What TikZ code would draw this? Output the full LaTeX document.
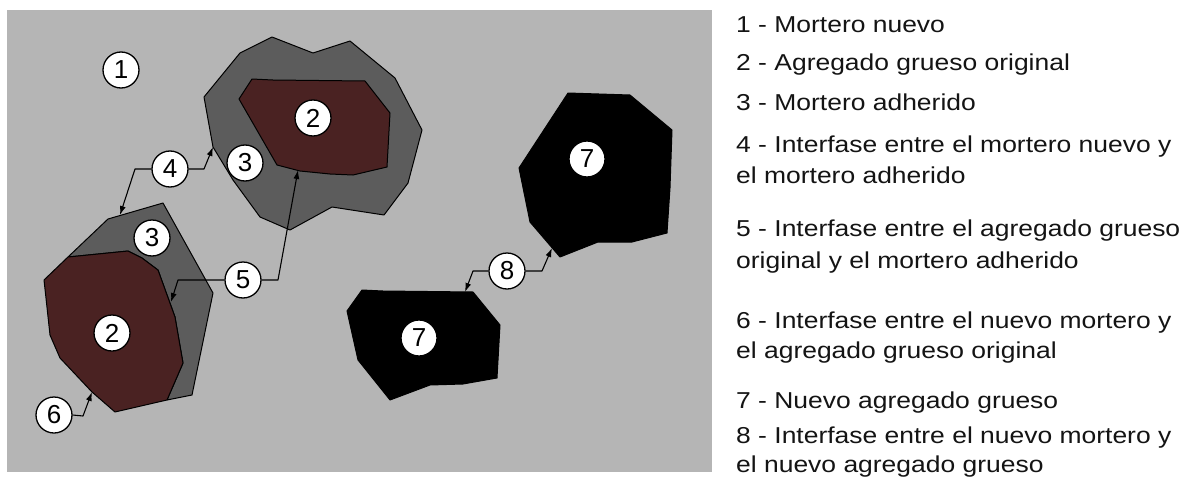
\documentclass[tikz,border=0pt]{standalone}
\usepackage{fontspec}
\setmainfont{Liberation Sans}
\newfontfamily\legendfont[FakeStretch=1.15]{Liberation Sans}
\usetikzlibrary{arrows.meta}
\definecolor{newmortar}{RGB}{181,181,181}
\definecolor{oldmortar}{RGB}{92,92,92}
\definecolor{oldagg}{RGB}{74,34,34}
\definecolor{legendink}{RGB}{20,20,20}

\begin{document}
\begin{tikzpicture}[x=1pt,y=-1pt,
  tag/.style={circle,draw=black,fill=white,line width=1.3pt,minimum size=36pt,
    inner sep=0pt,font=\fontsize{26}{26}\selectfont},
  grain/.style={draw=black,line width=1pt,line join=round},
  lead/.style={draw=black,line width=1.1pt,line join=round,
    -{Latex[length=9pt,width=6pt]}},
  legend/.style={anchor=base west,inner sep=0pt,text=legendink,
    font=\legendfont\fontsize{23}{23}\selectfont}]

% page and section background
\fill[white] (0,0) rectangle (1186,479);
\useasboundingbox (0,0) rectangle (1186,479);
\fill[newmortar] (7,10) rectangle (712,472);

% recycled aggregate, upper: adhered mortar and original aggregate
\filldraw[grain,fill=oldmortar] (272,37) -- (313,53) -- (350,41) -- (395,78) -- (422,130)
  -- (408,183) -- (384,215) -- (332,207) -- (290,230) -- (260,217) -- (233,180)
  -- (213,147) -- (204,97) -- (240,53) -- cycle;
\filldraw[grain,fill=oldagg] (252,79) -- (273,80) -- (365,81) -- (390,113) -- (387,167)
  -- (353,175) -- (330,174) -- (300,171) -- (277,165) -- (239,99) -- cycle;

% recycled aggregate, lower
\filldraw[grain,fill=oldmortar] (68,257) -- (108,219) -- (163,203) -- (213,293)
  -- (192,395) -- (167,400) -- (180,370) -- (183,363) -- (175,317) -- (158,270)
  -- (142,258) -- (128,251) -- cycle;
\filldraw[grain,fill=oldagg] (44,280) -- (68,257) -- (128,251) -- (142,258) -- (158,270)
  -- (175,317) -- (183,363) -- (180,370) -- (167,400) -- (115,412) -- (92,392)
  -- (60,358) -- (50,335) -- (45,289) -- cycle;

% new coarse aggregate particles
\filldraw[grain,fill=black] (347,311) -- (362,290) -- (383,291) -- (473,292) -- (500,325)
  -- (497,378) -- (463,384) -- (430,385) -- (390,400) -- (358,360) -- cycle;
\filldraw[grain,fill=black] (568,93) -- (630,95) -- (672,130) -- (670,188) -- (667,233)
  -- (632,242) -- (598,242) -- (560,257) -- (530,222) -- (519,168) -- cycle;

% arrow tips on the interfaces
\coordinate (t4a) at (120,215);
\coordinate (t4b) at (213,147);
\coordinate (t5a) at (171,302);
\coordinate (t5b) at (298,170);
\coordinate (t6)  at (92,392);
\coordinate (t8a) at (465,292);
\coordinate (t8b) at (552,248);

% numbered tags
\node[tag] (n1)  at (121,70)  {1};
\node[tag] (n2a) at (313,118) {2};
\node[tag] (n3a) at (245,163) {3};
\node[tag] (n4)  at (170,169) {4};
\node[tag] (n3b) at (152,238) {3};
\node[tag] (n5)  at (243,280) {5};
\node[tag] (n2b) at (112,333) {2};
\node[tag] (n6)  at (54,415)  {6};
\node[tag] (n7a) at (419,338) {7};
\node[tag] (n7b) at (587,159) {7};
\node[tag] (n8)  at (507,271) {8};

% leader lines
\draw[lead] (n4.west) -- (135,169) -- (t4a);
\draw[lead] (n4.east) -- (204,169) -- (t4b);
\draw[lead] (n5.west) -- (178,280) -- (t5a);
\draw[lead] (n5.east) -- (278,280) -- (t5b);
\draw[lead] (n6.east) -- (83,416) -- (t6);
\draw[lead] (n8.west) -- (473,271) -- (t8a);
\draw[lead] (n8.east) -- (542,271) -- (t8b);

% legend
\node[legend] (l1)  at (736,32)  {1 - Mortero nuevo};
\node[legend] (l2)  at (736,70)  {2 - Agregado grueso original};
\node[legend] (l3)  at (736,110) {3 - Mortero adherido};
\node[legend] (l4a) at (736,152) {4 - Interfase entre el mortero nuevo y};
\node[legend] (l4b) at (736,183) {el mortero adherido};
\node[legend] (l5a) at (736,236) {5 - Interfase entre el agregado grueso};
\node[legend] (l5b) at (736,268) {original y el mortero adherido};
\node[legend] (l6a) at (736,328) {6 - Interfase entre el nuevo mortero y};
\node[legend] (l6b) at (736,358) {el agregado grueso original};
\node[legend] (l7)  at (736,408) {7 - Nuevo agregado grueso};
\node[legend] (l8a) at (736,443) {8 - Interfase entre el nuevo mortero y};
\node[legend] (l8b) at (736,472) {el nuevo agregado grueso};
\end{tikzpicture}
\end{document}
